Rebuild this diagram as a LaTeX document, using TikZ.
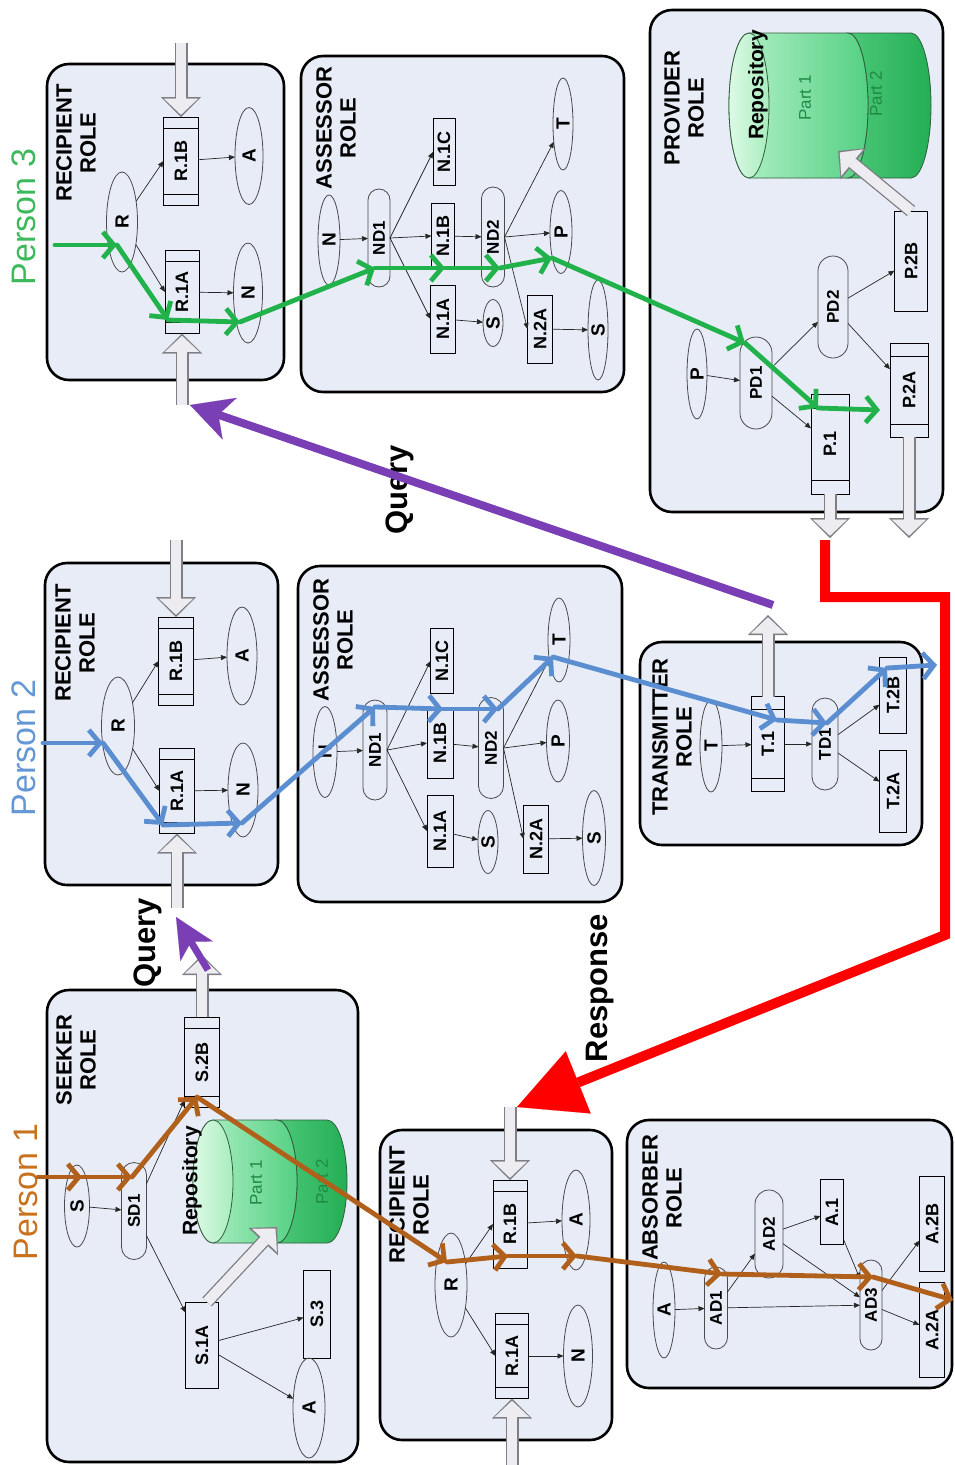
\documentclass[tikz,border=0pt]{standalone}
\usepackage{fontspec}
\setmainfont{Liberation Sans}
\usetikzlibrary{arrows.meta,shapes.geometric,shapes.misc,calc}

\definecolor{boxfill}{HTML}{E7ECF6}
\definecolor{pgreen}{HTML}{22B24C}
\definecolor{pblue}{HTML}{5B8ED0}
\definecolor{pbrown}{HTML}{B0601A}
\definecolor{ppurple}{HTML}{7B3FB5}
\definecolor{pred}{HTML}{FF0000}
\definecolor{tgreen}{HTML}{3CB95A}
\definecolor{tblue}{HTML}{6497D6}
\definecolor{tbrown}{HTML}{C8711F}
\definecolor{hgray}{HTML}{7E7E84}
\definecolor{hfill}{HTML}{EDEDF1}
\definecolor{nodeline}{HTML}{4A4A4A}
\definecolor{cylA1}{HTML}{B6F2CA}
\definecolor{cylA2}{HTML}{55D083}
\definecolor{cylB1}{HTML}{4CC878}
\definecolor{cylB2}{HTML}{24AE55}
\definecolor{cylF1}{HTML}{DDFAE6}
\definecolor{cylF2}{HTML}{A8EDBE}
\definecolor{cylline}{HTML}{2F5E3C}
\definecolor{parttext}{HTML}{1E8A45}

\tikzset{
  rolebox/.style={draw=black,line width=2.6pt,rounded corners=22pt,fill=boxfill,inner sep=0pt,outer sep=0pt},
  roletitle/.style={rotate=90,align=center,inner sep=0pt,font=\fontsize{22}{24}\selectfont\bfseries},
  ell/.style 2 args={ellipse,draw=nodeline,line width=0.8pt,minimum width=#1pt,minimum height=#2pt,inner sep=0pt,outer sep=0pt,rotate=90,font=\fontsize{19}{19}\selectfont\bfseries},
  rect/.style 2 args={rectangle,draw=black,line width=1pt,minimum width=#1pt,minimum height=#2pt,inner sep=0pt,outer sep=0pt,rotate=90,font=\fontsize{18}{18}\selectfont\bfseries},
  stad/.style 2 args={rounded rectangle,draw=nodeline,line width=0.8pt,minimum width=#1pt,minimum height=#2pt,inner sep=0pt,outer sep=0pt,rotate=90,font=\fontsize{17}{17}\selectfont\bfseries},
  conn/.style={draw=black!85,line width=0.7pt,-{Triangle[length=6pt,width=5pt]}},
  gseg/.style={draw=pgreen,line width=4.8pt,line cap=round,-{Straight Barb[length=11pt,width=26pt]}},
  bseg/.style={draw=pblue,line width=4.8pt,line cap=round,-{Straight Barb[length=11pt,width=26pt]}},
  rseg/.style={draw=pbrown,line width=4.8pt,line cap=round,-{Straight Barb[length=11pt,width=26pt]}},
  person/.style={rotate=90,inner sep=0pt,font=\fontsize{34}{34}\selectfont},
  biglabel/.style={rotate=90,inner sep=0pt,font=\fontsize{31}{31}\selectfont\bfseries},
  cyl/.style={draw=cylline,line width=0.8pt},
  reptext/.style={rotate=90,inner sep=0pt,font=\fontsize{21}{21}\selectfont\bfseries},
  parttxt/.style={rotate=90,inner sep=0pt,text=parttext,font=\fontsize{17}{17}\selectfont},
}

\newcommand{\bands}[2]{%
  \draw[line width=1pt] ($(#1.north east)+(0,#2)$) -- ($(#1.south east)+(0,#2)$)
     ($(#1.north west)+(0,-#2)$) -- ($(#1.south west)+(0,-#2)$);}
\newcommand{\hollowarrow}[2]{%
  \draw[line width=13pt,draw=hgray,-{Triangle[length=20pt,width=40pt,line width=0.1pt]}] (#1) -- (#2);
  \draw[line width=10.4pt,draw=hfill,shorten >=2.3pt,-{Triangle[length=16pt,width=34pt,line width=0.1pt]}] (#1) -- (#2);}
% xL xM xR yc b
\newcommand{\repository}[5]{%
  \draw[cyl,left color=cylB1,right color=cylB2] (#2,#4-#5) -- (#3,#4-#5)
     arc[start angle=90,end angle=-90,x radius=20pt,y radius=#5pt] -- (#2,#4+#5)
     arc[start angle=-90,end angle=90,x radius=20pt,y radius=#5pt] -- cycle;
  \draw[cyl,left color=cylA1,right color=cylA2] (#1,#4-#5) -- (#2,#4-#5)
     arc[start angle=90,end angle=-90,x radius=20pt,y radius=#5pt] -- (#1,#4+#5)
     arc[start angle=-90,end angle=-270,x radius=20pt,y radius=#5pt] -- cycle;
  \draw[cyl,left color=cylF1,right color=cylF2] (#1,#4) ellipse[x radius=20pt,y radius=#5pt];}

\begin{document}
\begin{tikzpicture}[x=1pt,y=-1pt]
\useasboundingbox (0,0) rectangle (954,1465);

% ---------------- role boxes ----------------
\node[rolebox,minimum width=237pt,minimum height=316pt] (bx3r) at (165.5,222) {};
\node[rolebox,minimum width=323pt,minimum height=336pt] (bx3a) at (462.5,224) {};
\node[rolebox,minimum width=293pt,minimum height=502pt] (bxpv) at (796.5,261) {};
\node[rolebox,minimum width=233pt,minimum height=322pt] (bx2r) at (161.5,724) {};
\node[rolebox,minimum width=324pt,minimum height=336pt] (bx2a) at (460,734) {};
\node[rolebox,minimum width=282pt,minimum height=203pt] (bxtr) at (781,743.5) {};
\node[rolebox,minimum width=311pt,minimum height=472pt] (bxsk) at (202.5,1226) {};
\node[rolebox,minimum width=232pt,minimum height=310pt] (bx1r) at (496,1285) {};
\node[rolebox,minimum width=325pt,minimum height=268pt] (bxab) at (789.5,1254) {};

% ---------------- titles ----------------
\node[roletitle] (t3r) at (76,143) {RECIPIENT\\ROLE};
\node[roletitle] (t3a) at (336,128) {ASSESSOR\\ROLE};
\node[roletitle] (tpv) at (684,108) {PROVIDER\\ROLE};
\node[roletitle] (t2r) at (75,643) {RECIPIENT\\ROLE};
\node[roletitle] (t2a) at (333,640) {ASSESSOR\\ROLE};
\node[roletitle] (ttr) at (672,737) {TRANSMITTER\\ROLE};
\node[roletitle] (tsk) at (76,1060) {SEEKER\\ROLE};
\node[roletitle] (t1r) at (409,1205) {RECIPIENT\\ROLE};
\node[roletitle] (tab) at (662,1198) {ABSORBER\\ROLE};

% ---------------- repositories ----------------
\repository{749}{848}{911}{105.5}{72.5}
\node[reptext] (pvrep) at (758,85) {Repository};
\node[parttxt] (pvp1) at (805,98) {Part 1};
\node[parttxt] (pvp2) at (876,94) {Part 2};
\repository{213}{277}{327}{1181.5}{61.5}
\node[reptext] (skrep) at (192,1181) {Repository};
\node[parttxt] (skp1) at (256,1183) {Part 1};
\node[parttxt] (skp2) at (322,1182) {Part 2};

% ---------------- Person 3 recipient ----------------
\node[ell={100}{31}] (p3R) at (122,222) {R};
\node[rect={88}{35}] (p3R1B) at (181,161) {R.1B};
\node[ell={97}{28}] (p3A) at (249,156) {A};
\node[rect={83}{34}] (p3R1A) at (182,292) {R.1A};
\node[ell={100}{29}] (p3N) at (248,293) {N};
\bands{p3R1B}{11}\bands{p3R1A}{11}
\draw[conn] (p3R) -- (p3R1B.north);
\draw[conn] (p3R) -- (p3R1A.north);
\draw[conn] (p3R1B) -- (p3A);
\draw[conn] (p3R1A) -- (p3N);

% ---------------- Person 3 assessor ----------------
\node[ell={90}{22}] (p3aN) at (329,240) {N};
\node[stad={98}{22}] (p3ND1) at (379,238) {ND1};
\node[rect={67}{22}] (p3N1C) at (444,152) {N.1C};
\node[rect={65}{23}] (p3N1B) at (443,236) {N.1B};
\node[rect={68}{25}] (p3N1A) at (443,319) {N.1A};
\node[stad={100}{23}] (p3ND2) at (493,237) {ND2};
\node[ell={92}{20}] (p3T) at (563,124) {T};
\node[ell={83}{22}] (p3P) at (561,232) {P};
\node[rect={68}{25}] (p3N2A) at (540,329) {N.2A};
\node[ell={47}{20}] (p3S1) at (493,323) {S};
\node[ell={100}{20}] (p3S2) at (598,330) {S};
\draw[conn] (p3aN) -- (p3ND1);
\draw[conn] (p3ND1.south) -- (p3N1C.north);
\draw[conn] (p3ND1.south) -- (p3N1B.north);
\draw[conn] (p3ND1.south) -- (p3N1A.north);
\draw[conn] (p3N1B) -- (p3ND2);
\draw[conn] (p3ND2.south) -- (p3T);
\draw[conn] (p3ND2.south) -- (p3P);
\draw[conn] (p3ND2.south) -- (p3N2A.north);
\draw[conn] (p3N1A) -- (p3S1);
\draw[conn] (p3N2A) -- (p3S2);

% ---------------- Provider ----------------
\node[ell={90}{20}] (pvP) at (697,374) {P};
\node[stad={92}{32}] (pvPD1) at (756,383) {PD1};
\node[stad={102}{30}] (pvPD2) at (833,307) {PD2};
\node[rect={100}{33}] (pvP2B) at (911,261) {P.2B};
\node[rect={94}{38}] (pvP2A) at (909,390) {P.2A};
\node[rect={100}{38}] (pvP1) at (830,444) {P.1};
\bands{pvP2A}{13}\bands{pvP1}{14}
\draw[conn] (pvP) -- (pvPD1);
\draw[conn] (pvPD1) -- (pvPD2);
\draw[conn] (pvPD1) -- (pvP1);
\draw[conn] (pvPD2) -- (pvP2B);
\draw[conn] (pvPD2) -- (pvP2A);

% ---------------- Person 2 recipient ----------------
\node[ell={98}{33}] (p2R) at (118,726) {R};
\node[rect={88}{35}] (p2R1B) at (176,661) {R.1B};
\node[ell={98}{30}] (p2A) at (242,656) {A};
\node[rect={85}{35}] (p2R1A) at (177,791) {R.1A};
\node[ell={94}{30}] (p2N) at (243,790) {N};
\bands{p2R1B}{11}\bands{p2R1A}{11}
\draw[conn] (p2R) -- (p2R1B.north);
\draw[conn] (p2R) -- (p2R1A.north);
\draw[conn] (p2R1B) -- (p2A);
\draw[conn] (p2R1A) -- (p2N);

% ---------------- Person 2 assessor ----------------
\node[ell={91}{24}] (p2aN) at (325,752) {N};
\node[stad={100}{24}] (p2ND1) at (375,750) {ND1};
\node[rect={65}{23}] (p2N1C) at (442,661) {N.1C};
\node[rect={70}{26}] (p2N1B) at (440,743) {N.1B};
\node[rect={72}{26}] (p2N1A) at (440,831) {N.1A};
\node[stad={101}{25}] (p2ND2) at (491,748) {ND2};
\node[ell={84}{22}] (p2T) at (559,640) {T};
\node[ell={82}{23}] (p2P) at (558,741) {P};
\node[rect={68}{25}] (p2N2A) at (536,839) {N.2A};
\node[ell={63}{20}] (p2S1) at (488,842) {S};
\node[ell={95}{23}] (p2S2) at (594,838) {S};
\draw[conn] (p2aN) -- (p2ND1);
\draw[conn] (p2ND1.south) -- (p2N1C.north);
\draw[conn] (p2ND1.south) -- (p2N1B.north);
\draw[conn] (p2ND1.south) -- (p2N1A.north);
\draw[conn] (p2N1B) -- (p2ND2);
\draw[conn] (p2ND2.south) -- (p2T);
\draw[conn] (p2ND2.south) -- (p2P);
\draw[conn] (p2ND2.south) -- (p2N2A.north);
\draw[conn] (p2N1A) -- (p2S1);
\draw[conn] (p2N2A) -- (p2S2);

% ---------------- Transmitter ----------------
\node[ell={92}{22}] (trT) at (711,746) {T};
\node[rect={95}{33}] (trT1) at (768,744) {T.1};
\node[stad={92}{26}] (trTD1) at (825,744) {TD1};
\node[rect={76}{27}] (trT2B) at (893,695) {T.2B};
\node[rect={82}{27}] (trT2A) at (893,791) {T.2A};
\bands{trT1}{13}
\draw[conn] (trT) -- (trT1);
\draw[conn] (trT1) -- (trTD1);
\draw[conn] (trTD1) -- (trT2B);
\draw[conn] (trTD1) -- (trT2A);

% ---------------- Seeker ----------------
\node[ell={82}{25}] (skS) at (77,1206) {S};
\node[stad={97}{25}] (skSD1) at (134,1211) {SD1};
\node[rect={90}{35}] (skS2B) at (202,1062) {S.2B};
\node[rect={86}{33}] (skS1A) at (202,1345) {S.1A};
\node[rect={88}{27}] (skS3) at (317,1314) {S.3};
\node[ell={100}{32}] (skA) at (309,1408) {A};
\bands{skS2B}{11}
\draw[conn] (skS) -- (skSD1);
\draw[conn] (skSD1) -- (skS2B);
\draw[conn] (skSD1) -- (skS1A);
\draw[conn] (skS1A) -- (skS3);
\draw[conn] (skS1A) -- (skA);

% ---------------- Person 1 recipient ----------------
\node[ell={104}{32}] (p1R) at (451,1285) {R};
\node[rect={88}{34}] (p1R1B) at (510,1224) {R.1B};
\node[ell={100}{28}] (p1A) at (576,1220) {A};
\node[rect={85}{33}] (p1R1A) at (512,1356) {R.1A};
\node[ell={102}{29}] (p1N) at (578,1356) {N};
\bands{p1R1B}{11}\bands{p1R1A}{11}
\draw[conn] (p1R) -- (p1R1B.north);
\draw[conn] (p1R) -- (p1R1A.north);
\draw[conn] (p1R1B) -- (p1A);
\draw[conn] (p1R1A) -- (p1N);

% ---------------- Absorber ----------------
\node[ell={96}{22}] (abA) at (664,1310) {A};
\node[stad={82}{23}] (abAD1) at (716,1308) {AD1};
\node[stad={88}{28}] (abAD2) at (769,1234) {AD2};
\node[rect={65}{23}] (abA1) at (832,1212) {A.1};
\node[stad={90}{22}] (abAD3) at (871,1305) {AD3};
\node[rect={95}{25}] (abA2B) at (932,1224) {A.2B};
\node[rect={95}{25}] (abA2A) at (932,1330) {A.2A};
\draw[conn] (abA) -- (abAD1);
\draw[conn] (abAD1) -- (abAD2);
\draw[conn] (abAD1) -- (abAD3);
\draw[conn] (abAD2) -- (abA1);
\draw[conn] (abAD2) -- (abAD3);
\draw[conn] (abA1) -- (abAD3);
\draw[conn] (abAD3) -- (abA2B);
\draw[conn] (abAD3) -- (abA2A);

% ---------------- hollow block arrows ----------------
\coordinate (h1) at (181,43);
\coordinate (h2) at (182,405);
\coordinate (h3) at (176,540);
\coordinate (h4) at (177,908);
\coordinate (h5) at (510,1107);
\coordinate (h6) at (512,1465);
\coordinate (h7) at (202,955);
\coordinate (h8) at (768,615);
\coordinate (h9) at (830,538);
\coordinate (h10) at (909,538);
\coordinate (h11s) at (207,1302);
\coordinate (h11e) at (277,1227);
\coordinate (h12s) at (911,211);
\coordinate (h12e) at (838,151);
\hollowarrow{h1}{p3R1B.east}
\hollowarrow{h2}{p3R1A.west}
\hollowarrow{h3}{p2R1B.east}
\hollowarrow{h4}{p2R1A.west}
\hollowarrow{h5}{p1R1B.east}
\hollowarrow{h6}{p1R1A.west}
\hollowarrow{skS2B.east}{h7}
\hollowarrow{trT1.east}{h8}
\hollowarrow{pvP1.west}{h9}
\hollowarrow{pvP2A.west}{h10}
\hollowarrow{h11s}{h11e}
\hollowarrow{h12s}{h12e}

% ---------------- person labels ----------------
\node[person,text=tgreen] (lp3) at (24,217) {Person 3};
\node[person,text=tblue] (lp2) at (24,748) {Person 2};
\node[person,text=tbrown] (lp1) at (26,1192) {Person 1};
\node[biglabel] (lq1) at (400,490) {Query};
\node[biglabel] (lq2) at (148,943) {Query};
\node[biglabel] (lrs) at (600,988) {Response};

% ---------------- green path (Person 3) ----------------
\coordinate (g0) at (55,245);  \coordinate (g1) at (117,245);
\coordinate (g2) at (168,320); \coordinate (g3) at (240,322);
\coordinate (g4) at (375,268); \coordinate (g5) at (445,268);
\coordinate (g6) at (500,268); \coordinate (g7) at (552,258);
\coordinate (g8) at (745,343); \coordinate (g9) at (818,408);
\coordinate (g10) at (880,410);
\foreach \a/\b in {g0/g1,g1/g2,g2/g3,g3/g4,g4/g5,g5/g6,g6/g7,g7/g8,g8/g9,g9/g10}
  \draw[gseg] (\a) -- (\b);

% ---------------- blue path (Person 2) ----------------
\coordinate (b0) at (43,743);  \coordinate (b1) at (103,743);
\coordinate (b2) at (163,825); \coordinate (b3) at (242,823);
\coordinate (b4) at (375,707); \coordinate (b5) at (443,709);
\coordinate (b6) at (498,709); \coordinate (b7) at (553,657);
\coordinate (b8) at (777,720); \coordinate (b9) at (827,723);
\coordinate (b10) at (887,668); \coordinate (b11) at (937,665);
\foreach \a/\b in {b0/b1,b1/b2,b2/b3,b3/b4,b4/b5,b5/b6,b6/b7,b7/b8,b8/b9,b9/b10,b10/b11}
  \draw[bseg] (\a) -- (\b);

% ---------------- brown path (Person 1) ----------------
\coordinate (r0) at (38,1177);  \coordinate (r1) at (82,1177);
\coordinate (r2) at (132,1177); \coordinate (r3) at (197,1097);
\coordinate (r4) at (447,1262); \coordinate (r5) at (508,1256);
\coordinate (r6) at (577,1256); \coordinate (r7) at (722,1274);
\coordinate (r8) at (873,1277); \coordinate (r9) at (953,1300);
\foreach \a/\b in {r0/r1,r1/r2,r2/r3,r3/r4,r4/r5,r5/r6,r6/r7,r7/r8,r8/r9}
  \draw[rseg] (\a) -- (\b);

% ---------------- Query arrows ----------------
\coordinate (q0) at (773,605);
\coordinate (q1) at (190,405);
\draw[draw=ppurple,line width=8pt,-{Stealth[length=42pt,width=44pt,inset=12pt,line width=0.1pt]}] (q0) -- (q1);
\coordinate (q2) at (208,970);
\coordinate (q3) at (176,917);
\draw[draw=ppurple,line width=7pt,-{Stealth[length=40pt,width=38pt,inset=11pt,line width=0.1pt]}] (q2) -- (q3);

% ---------------- Response arrow ----------------
\coordinate (d0) at (825,540);
\coordinate (d1) at (825,597);
\coordinate (d2) at (945,597);
\coordinate (d3) at (945,935);
\coordinate (d4) at (517,1107);
\draw[draw=pred,line width=10pt,line join=miter,-{Triangle[length=66pt,width=67pt,line width=0.1pt]}] (d0) -- (d1) -- (d2) -- (d3) -- (d4);

\end{tikzpicture}
\end{document}
